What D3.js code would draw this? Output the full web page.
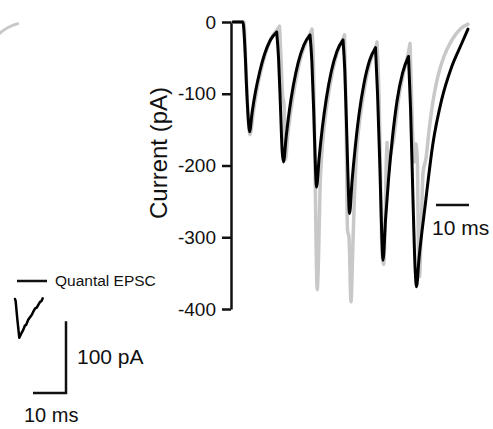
<!DOCTYPE html>
<html>
<head>
<meta charset="utf-8">
<script src="https://cdn.jsdelivr.net/npm/d3@7"></script>
<style>
  html, body { margin: 0; padding: 0; background: #fff; }
  svg { display: block; }
  text { font-family: "Liberation Sans", Arial, Helvetica, sans-serif; fill: #111; }
</style>
</head>
<body>
<svg id="chart" width="493" height="429"></svg>
<script>
// Evoked train of EPSCs (ms, pA): model fit (black)
const modelTime = [0, 3.0, 3.6, 4.2, 4.7, 5.0,
  5.82, 6.82, 8.06, 9.55, 11.33, 13.24,
  13.8, 14.4, 14.9, 15.3,
  16.11, 17.06, 18.27, 19.73, 21.48, 23.33,
  23.9, 24.5, 25.0, 25.3,
  26.11, 27.06, 28.27, 29.73, 31.48, 33.33,
  33.9, 34.5, 35.0, 35.3,
  36.09, 37.03, 38.21, 39.64, 41.36, 43.18,
  43.8, 44.5, 45.1, 45.45,
  46.23, 47.15, 48.30, 49.70, 51.39, 53.18,
  53.8, 54.5, 55.2, 55.61,
  56.36, 58.2, 60.6, 63.2, 66.3, 69.3, 71.2];
const modelCurrent = [0, 0, -35, -100, -140, -153,
  -125, -97, -70, -45, -25, -14,
  -50, -120, -180, -195,
  -160, -124, -89, -57, -32, -18,
  -55, -130, -205, -230,
  -189, -148, -107, -70, -41, -25,
  -70, -160, -240, -267,
  -221, -175, -128, -87, -54, -36,
  -100, -200, -300, -332,
  -275, -218, -162, -110, -71, -48,
  -120, -240, -345, -369,
  -330, -257, -169, -109, -62, -30, -10];

// Recorded response to the same train (gray)
const recordedTime = [0, 3.3, 3.9, 4.7, 5.15,
  6.12, 7.12, 8.36, 9.85, 11.64, 13.48, 14.09,
  14.55, 15.0, 15.45, 15.7, 15.91,
  16.55, 17.52, 18.73, 20.18, 21.94, 23.33, 23.94,
  24.39, 24.85, 25.15, 25.52, 25.91, 26.36,
  26.97, 27.58, 28.73, 30.18, 31.94, 33.33, 33.79,
  34.24, 34.70, 35.15, 35.76, 36.21, 36.67,
  37.48, 38.67, 40.09, 41.82, 43.18, 43.64,
  44.24, 44.70, 45.0, 45.61, 46.06, 46.36, 46.67, 47.12, 47.58,
  48.76, 50.15, 51.82, 53.18, 53.64,
  54.39, 55.0, 55.45, 55.91, 56.21, 56.52, 56.97, 57.58, 58.48,
  59.39, 60.61, 62.12, 63.94, 66.36, 68.79, 71.21];
const recordedCurrent = [0, 0, -60, -140, -157,
  -127, -98, -70, -44, -22, -10, -6,
  -50, -100, -116, -150, -192,
  -160, -124, -89, -56, -30, -17, -10,
  -60, -200, -300, -373, -330, -235,
  -180, -148, -107, -69, -38, -24, -18,
  -120, -290, -300, -390, -330, -260,
  -180, -128, -86, -52, -36, -28,
  -100, -210, -300, -338, -290, -210, -168, -205, -190,
  -160, -108, -68, -42, -30,
  -150, -195, -170, -200, -330, -355, -300, -210, -190,
  -152, -110, -75, -48, -25, -10, -3];

// Single quantal EPSC (ms, pA)
const quantalTime = [0, 0.2, 0.7, 1.3, 1.8, 2.5, 3.0, 3.4, 4.0, 4.6, 5.1, 5.5, 6.1, 6.6, 7.1, 7.6, 8.0, 8.4];
const quantalCurrent = [0, -3, -28, -54, -49, -43, -37, -36, -29, -25, -22, -18, -13, -12, -8, -4, -3, 1];

const yTicks = [0, -100, -200, -300, -400];
const yLabel = "Current (pA)";
const timeBarMs = 10;
const currentBarPA = 100;
const legendLabel = "Quantal EPSC";

const svg = d3.select("#chart");

// Main panel scales
const x = d3.scaleLinear().domain([0, 72]).range([233, 470.6]);
const y = d3.scaleLinear().domain([0, -400]).range([22, 309]);

// Split a trace at each peak (return toward baseline) so the crests stay sharp,
// while the troughs are left smooth by the monotone spline
function tracePath(xs, ys, fx, fy) {
  const pts = xs.map((t, i) => [fx(t), fy(ys[i])]);
  const pieces = [];
  let start = 0;
  for (let i = 1; i < ys.length - 1; i++) {
    const a = ys[i] - ys[i - 1], b = ys[i + 1] - ys[i];
    if (a > 0 && b < 0) { pieces.push(pts.slice(start, i + 1)); start = i; }
  }
  pieces.push(pts.slice(start));
  const gen = d3.line().curve(d3.curveMonotoneX);
  return pieces.map(p => gen(p)).join("");
}

// Faint arc fragment at the upper left
const arcPath = d3.path();
arcPath.arc(30, 68, 46, -140 * Math.PI / 180, -104 * Math.PI / 180);
svg.append("path").attr("d", arcPath.toString())
  .attr("fill", "none").attr("stroke", "#c9c9c9").attr("stroke-width", 3);

// Y axis
const axis = d3.axisLeft(y).tickValues(yTicks).tickFormat(d => String(d))
  .tickSize(9).tickSizeOuter(0).tickPadding(6);
const gAxis = svg.append("g").attr("transform", "translate(231,0)").call(axis);
gAxis.select(".domain").attr("stroke", "#111").attr("stroke-width", 2.5);
gAxis.selectAll(".tick line").attr("stroke", "#111").attr("stroke-width", 2.5);
gAxis.selectAll(".tick text").attr("font-size", 19).attr("fill", "#111")
  .style("font-family", "'Liberation Sans', Arial, sans-serif");

svg.append("text").attr("transform", "translate(167,153) rotate(-90)")
  .attr("text-anchor", "middle").attr("font-size", 24).text(yLabel);

// Traces
svg.append("path").attr("d", tracePath(recordedTime, recordedCurrent, x, y))
  .attr("fill", "none").attr("stroke", "#c8c8c8").attr("stroke-width", 3.5)
  .attr("stroke-linejoin", "round").attr("stroke-linecap", "round");
svg.append("path").attr("d", tracePath(modelTime, modelCurrent, x, y))
  .attr("fill", "none").attr("stroke", "#000").attr("stroke-width", 3)
  .attr("stroke-linejoin", "round").attr("stroke-linecap", "round");

// Time scale bar (main panel)
const barX0 = 436, barY = 205;
const barLen = x(timeBarMs) - x(0);
svg.append("line").attr("x1", barX0).attr("x2", barX0 + barLen)
  .attr("y1", barY).attr("y2", barY).attr("stroke", "#111").attr("stroke-width", 2.5);
svg.append("text").attr("x", 432).attr("y", 234.5).attr("font-size", 21).text(timeBarMs + " ms");

// Quantal EPSC inset, same px/ms and px/pA as the main panel
const qx = d3.scaleLinear().domain([0, 10]).range([15, 15 + barLen]);
const qy = d3.scaleLinear().domain([0, -100]).range([299, 299 + (y(-100) - y(0))]);

svg.append("line").attr("x1", 17).attr("x2", 47).attr("y1", 281).attr("y2", 281)
  .attr("stroke", "#111").attr("stroke-width", 2.5);
svg.append("text").attr("x", 55).attr("y", 286).attr("font-size", 15.5).text(legendLabel);

svg.append("path")
  .attr("d", d3.line().x((d, i) => qx(quantalTime[i])).y(d => qy(d)).curve(d3.curveLinear)(quantalCurrent))
  .attr("fill", "none").attr("stroke", "#000").attr("stroke-width", 2.5)
  .attr("stroke-linejoin", "round").attr("stroke-linecap", "round");

// Inset scale bars
const vLen = y(-currentBarPA) - y(0);
const cornerX = 66, cornerY = 393;
svg.append("path")
  .attr("d", `M${cornerX},${cornerY - vLen}V${cornerY}H${cornerX - barLen}`)
  .attr("fill", "none").attr("stroke", "#111").attr("stroke-width", 2.5);
svg.append("text").attr("x", 77).attr("y", 364).attr("font-size", 21).text(currentBarPA + " pA");
svg.append("text").attr("x", 24).attr("y", 421.5).attr("font-size", 20).text(timeBarMs + " ms");
</script>
</body>
</html>
